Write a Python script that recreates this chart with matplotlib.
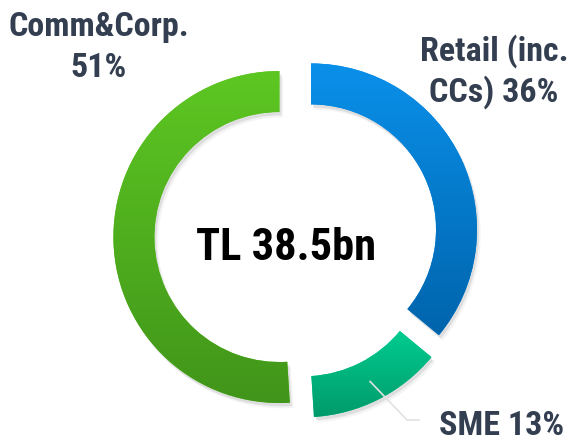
import numpy as np
import matplotlib
matplotlib.use("Agg")
import matplotlib.pyplot as plt
import matplotlib.patches as mpatches
from matplotlib import font_manager as fm
from matplotlib.colors import to_rgb

segments = ["Retail (inc.\nCCs) 36%", "SME 13%", "Comm&Corp.\n51%"]
shares = [36, 13, 51]
grad_top = ["#0A90EA", "#00CC90", "#5DC722"]
grad_bottom = ["#0064AC", "#009A6A", "#41951A"]
total_label = "TL 38.5bn"

# the reference uses a narrow bold face; take one if present
names = {f.name for f in fm.fontManager.ttflist}
narrow = [n for n in ["Liberation Sans Narrow", "Roboto Condensed", "Open Sans Condensed"] if n in names]
FONT = narrow[0] if narrow else "Liberation Sans"
lab_fs, mid_fs = (24.5, 32) if narrow else (21.5, 29)

W, H = 576, 442
fig = plt.figure(figsize=(W / 100, H / 100), dpi=100)
ax = fig.add_axes([0, 0, 1, 1])
ax.axis("off")

# pixel scale: 1 data unit = radius
R_PX = 166.0
cx_px, cy_px = 296.0, 236.5
xlim = (-cx_px / R_PX, (W - cx_px) / R_PX)
ylim = (-(H - cy_px) / R_PX, cy_px / R_PX)

ring = 0.247
wedges, _ = ax.pie(shares, startangle=90, counterclock=False, radius=1.0,
                   explode=[0.1] * 3,
                   wedgeprops=dict(width=ring, linewidth=0))

for i, w in enumerate(wedges):
    # soft drop shadow
    for off, a in [((0.012, -0.02), 0.18), ((0.022, -0.032), 0.08)]:
        sh = mpatches.Wedge((w.center[0] + off[0], w.center[1] + off[1]), w.r,
                            w.theta1, w.theta2, width=w.width,
                            facecolor="#7f7f7f", alpha=a, linewidth=0, zorder=0.5)
        ax.add_patch(sh)
    w.set_facecolor(grad_top[i])
    w.set_zorder(1)
    bb = w.get_path().get_extents()
    t = np.linspace(0, 1, 256)[:, None]
    c0, c1 = np.array(to_rgb(grad_top[i])), np.array(to_rgb(grad_bottom[i]))
    img = (c0[None, None, :] * (1 - t[..., None]) + c1[None, None, :] * t[..., None])
    im = ax.imshow(img, extent=[bb.x0, bb.x1, bb.y0, bb.y1], origin="upper",
                   aspect="auto", zorder=2, interpolation="bilinear")
    im.set_clip_path(w)

ax.set_xlim(*xlim)
ax.set_ylim(*ylim)

# leader line for SME from mid-ring of the wedge
sme = wedges[1]
th = np.deg2rad((sme.theta1 + sme.theta2) / 2)
rm = sme.r - sme.width / 2
x0, y0 = sme.center[0] + rm * np.cos(th), sme.center[1] + rm * np.sin(th)
def px2d(px, py):
    return (px - cx_px) / R_PX, (cy_px - py) / R_PX
x1, y1 = px2d(407, 420)
x2, y2 = px2d(420, 420)
ax.plot([x0, x1, x2], [y0, y1, y2], color="#e2e2e2", lw=1.2, zorder=3,
        solid_capstyle="butt")

lab_col = "#333F50"
# label placement (pixel centres, first-line baseline)
pos = [(494, 61), (502, 435), (99, 36)]
for text, (px, py) in zip(segments, pos):
    for k, line in enumerate(text.split("\n")):
        fig.text(px / W, 1 - (py + 41 * k) / H, line, ha="center", va="baseline",
                 fontsize=lab_fs, fontweight="bold", color=lab_col, family=FONT)

fig.text(286.5 / W, 1 - 260 / H, total_label, ha="center", va="baseline",
         fontsize=mid_fs, fontweight="bold", color="black", family=FONT)

fig.savefig("out.png", dpi=100)
